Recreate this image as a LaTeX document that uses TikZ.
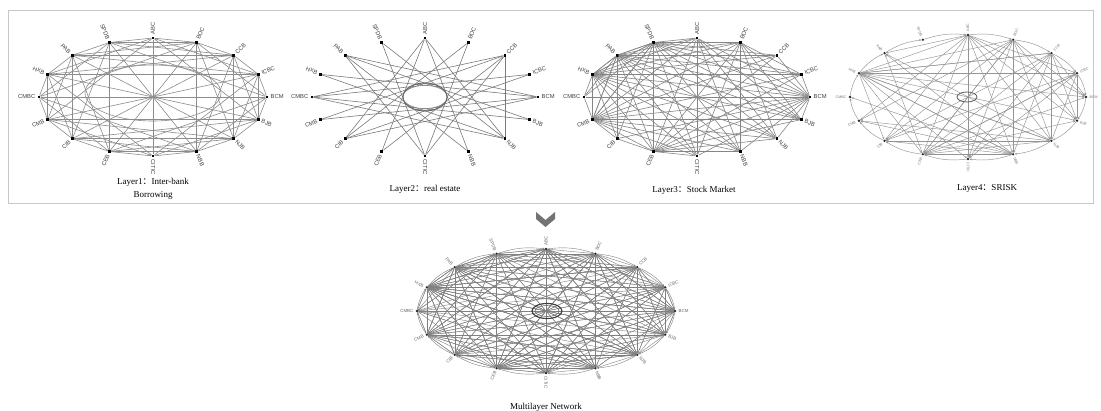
\documentclass[tikz,border=0pt]{standalone}
\usepackage{fontspec}
\setmainfont{Liberation Serif}
\setsansfont{Liberation Sans}
\newfontfamily\cjk{Noto Sans CJK SC}
\usepackage{tikz}
\usetikzlibrary{arrows.meta}
\tikzset{
  banksq/.style={rectangle,fill=black,inner sep=0pt,minimum size=2.8pt},
  bankdot/.style={circle,fill=black!85,inner sep=0pt,minimum size=2.6pt},
  banktag/.style={font=\sffamily\fontsize{5.8}{6}\selectfont,text=black!75,inner sep=0pt},
  banktiny/.style={font=\sffamily\fontsize{3.6}{4}\selectfont,text=black!55,inner sep=0pt},
  bankmid/.style={font=\sffamily\fontsize{4.4}{5}\selectfont,text=black!60,inner sep=0pt},
  ln/.style={draw=black!45,line width=0.6pt},
  dl/.style={draw=black!42,line width=0.45pt,-{Stealth[length=2.4pt,width=2pt]}},
  layertitle/.style={font=\fontsize{9}{13.5}\selectfont,align=center,inner sep=0pt},
}
% 16 banks on an ellipse, clockwise from ABC at the top
\newcommand\bankring[7]{% prefix, x, y, a, b, node style, label style
  \begin{scope}[shift={(#2,#3)}]
    \foreach \nm [count=\k from 0] in {ABC,BOC,CCB,ICBC,BCM,BJB,NJB,NBB,CITIC,CEB,CIB,CMB,CMBC,HXB,PAB,SPDB}{
      \pgfmathsetmacro\ang{90-22.5*\k}
      \pgfmathsetmacro\ra{#4+3.5}
      \pgfmathsetmacro\rb{#5+3.5}
      \node[#6] (#1\k) at (\ang:#4 and #5) {};
      \ifnum\k>8
        \node[#7,rotate=\ang+180,anchor=east] (#1t\k) at (\ang:{\ra} and {\rb}) {\nm};
      \else
        \node[#7,rotate=\ang,anchor=west] (#1t\k) at (\ang:{\ra} and {\rb}) {\nm};
      \fi
    }
  \end{scope}}
% layer 1: inter-bank borrowing
\newcommand\edgesone[1]{%
  \foreach \k in {0,...,15}{
    \pgfmathtruncatemacro\ka{mod(\k+1,16)}
    \pgfmathtruncatemacro\kb{mod(\k+3,16)}
    \pgfmathtruncatemacro\kc{mod(\k+5,16)}
    \draw[ln] (#1\k) -- (#1\ka) (#1\k) -- (#1\kb) (#1\k) -- (#1\kc);
  }
  \foreach \i/\j in {0/8,1/9,2/10,3/11,4/12,5/13,6/14,7/15,1/15,2/14,3/13,5/11,6/10,7/9,
      1/7,2/6,3/5,9/15,10/14,11/13}
    \draw[ln] (#1\i) -- (#1\j);
}
% layer 2: real estate
\newcommand\edgestwo[1]{%
  \foreach \k in {0,...,15}{
    \pgfmathtruncatemacro\ka{mod(\k+7,16)}
    \draw[ln] (#1\k) -- (#1\ka);
  }
  \foreach \i/\j in {0/6,2/8,4/10,6/12,8/14,10/0,12/2,14/4,2/6}
    \draw[ln] (#1\i) -- (#1\j);
}
% layer 3: stock market
\newcommand\edgesthree[1]{%
  \foreach \h in {15,14,13,11}{
    \foreach \k in {0,...,15}{
      \ifnum\k=\h\else\draw[ln] (#1\h) -- (#1\k);\fi
    }
  }
  \foreach \i/\j in {9/0,9/1,9/2,9/3,9/4,9/5,9/6,9/7,9/8,9/10,
      4/0,4/1,4/2,4/3,4/5,4/6,4/7,4/8,4/10,4/12,
      0/5,0/6,0/7,0/8,1/3,1/5,1/6,1/7,1/8}
    \draw[ln] (#1\i) -- (#1\j);
}
% layer 4: SRISK (directed)
\newcommand\edgesfour[1]{%
  \foreach \i/\j in {13/0,13/1,13/2,13/3,13/4,13/5,13/6,13/7,13/8,13/9,13/10,
      0/3,0/4,0/5,0/6,0/7,0/8,0/9,0/10,0/11,0/14,
      1/4,1/5,1/6,1/7,1/8,1/9,1/10,1/11,
      2/4,2/5,2/6,2/7,2/8,2/9,2/10,2/13,
      6/9,6/10,6/11,6/13,6/14,6/3,
      7/9,7/10,7/11,7/12,7/13,7/14,
      9/3,9/4,9/5,9/1,9/14,
      3/5,3/8,3/9,3/10}
    \draw[dl] (#1\i) -- (#1\j);
  \foreach \i/\j in {0/1,1/2,2/3,3/4,4/5,5/6,6/7,7/8,8/9,9/10,10/11,11/12,12/13,13/14,14/15,15/0}
    \draw[dl] (#1\i) to[bend left=12] (#1\j);
}

\begin{document}
\begin{tikzpicture}[x=1pt,y=1pt]
  \useasboundingbox (0,0) rectangle (1101,410);
  \fill[white] (0,0) rectangle (1101,410);
  \draw[black!22,line width=0.8pt] (8,207) rectangle (1093,400);

  % the four layers
  \bankring{a}{153}{313}{114}{59}{banksq}{banktag}
  \edgesone{a}
  \draw[ln] (153,317) ellipse [x radius=68,y radius=28];
  \node[layertitle] (t1) at (153,221) {Layer1{\cjk ：}Inter-bank\\Borrowing};

  \bankring{b}{425}{313}{113}{59}{banksq}{banktag}
  \begin{scope}[ln/.style={draw=black!52,line width=0.6pt}]
    \edgestwo{b}
  \end{scope}
  \draw[black!60,line width=1pt] (425,313) ellipse [x radius=22,y radius=14];
  \node[layertitle] (t2) at (425,221) {Layer2{\cjk ：}real estate};

  \bankring{c}{697}{313}{113}{59}{banksq}{banktag}
  \begin{scope}[ln/.style={draw=black!48,line width=0.6pt}]
    \edgesthree{c}
  \end{scope}
  \node[layertitle] (t3) at (694,220) {Layer3{\cjk ：}Stock Market};

  \bankring{d}{968}{313}{118}{62}{bankdot}{banktiny}
  \edgesfour{d}
  \draw[black!65,line width=0.8pt] (967,313) ellipse [x radius=10,y radius=5];
  \node[layertitle] (t4) at (987,222) {Layer4{\cjk ：}SRISK};

  % chevron
  \fill[black!55] (536,198) -- (545.5,190) -- (555,198) -- (555,191) -- (545.5,183) -- (536,191) -- cycle;

  % multilayer network
  \bankring{m}{546}{99}{129}{62}{bankdot}{bankmid}
  \begin{scope}[ln/.style={draw=black!50,line width=0.4pt},
      dl/.style={draw=black!50,line width=0.4pt,-{Stealth[length=2.2pt,width=1.8pt]}}]
    \edgesone{m}
    \edgestwo{m}
    \edgesthree{m}
    \edgesfour{m}
  \end{scope}
  \draw[black!75,line width=1.2pt] (547,99) ellipse [x radius=15,y radius=7.5];
  \draw[black!60,line width=0.6pt] (547,99) ellipse [x radius=12,y radius=5.5];
  \node[layertitle,anchor=base] (t5) at (546,0.5) {Multilayer Network};
\end{tikzpicture}
\end{document}
